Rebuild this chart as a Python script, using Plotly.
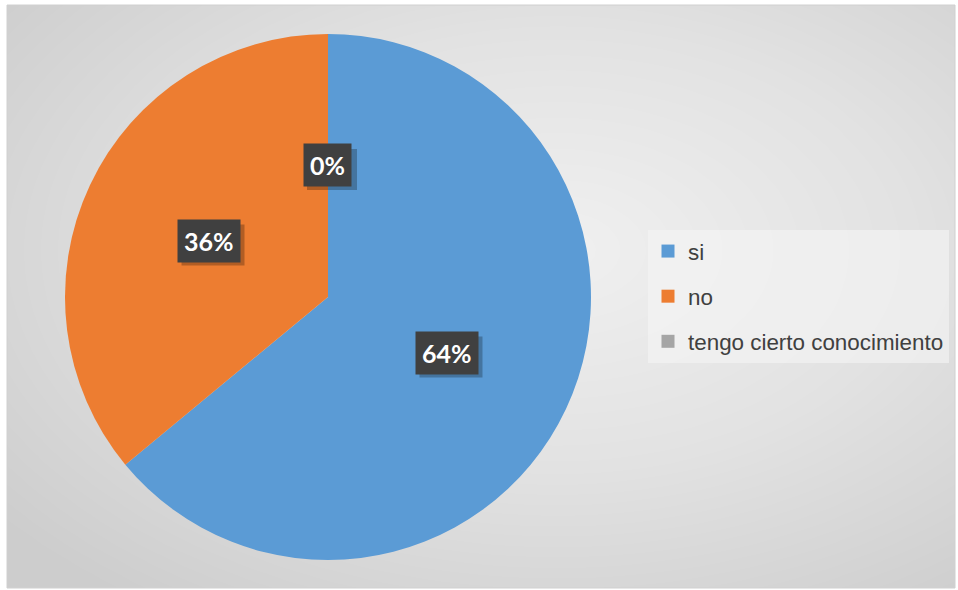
import numpy as np
import plotly.graph_objects as go

# Survey answers and their shares (%)
labels = ["si", "no", "tengo cierto conocimiento"]
values = [64, 36, 0]
colors = ["#5B9BD5", "#ED7D31", "#A5A5A5"]

W, H = 958, 590
# pie geometry in pixels
cx, cy, R = 328, 297, 263

fig = go.Figure()

# soft radial grey backdrop behind the chart
gx = np.linspace(0, 1, 120)
gy = np.linspace(0, 1, 80)
X, Y = np.meshgrid(gx, gy)
d = np.sqrt(((X - 0.58) / 0.75) ** 2 + ((Y - 0.58) / 0.75) ** 2)
fig.add_trace(go.Heatmap(
    x=gx, y=gy, z=d, zsmooth="best", showscale=False, hoverinfo="skip",
    colorscale=[[0, "#f0f0f0"], [0.5, "#e2e2e2"], [1, "#cdcdcd"]],
    zmin=0, zmax=1.0, xaxis="x", yaxis="y", showlegend=False,
))

fig.add_trace(go.Pie(
    labels=labels, values=values, sort=False, direction="clockwise",
    rotation=0, marker=dict(colors=colors, line=dict(width=0)),
    textinfo="none", showlegend=False, hoverinfo="label+percent",
    domain=dict(x=[(cx - R) / W, (cx + R) / W], y=[(H - cy - R) / H, (H - cy + R) / H]),
))

# legend entries
for lab, col in zip(labels, colors):
    fig.add_trace(go.Scatter(
        x=[None], y=[None], mode="markers", name=lab, legendgroup=lab,
        marker=dict(symbol="square", size=13, color=col),
        xaxis="x", yaxis="y",
    ))

# percentage labels placed halfway out along each slice's mid angle
shapes = [dict(type="rect", xref="paper", yref="paper", x0=7 / W, x1=955 / W,
               y0=2 / H, y1=1 - 5 / H, line=dict(color="#d0d0d0", width=1))]
total = sum(values)
cum = 0
for v in values:
    mid = (cum + v / 2) / total * 2 * np.pi
    cum += v
    px = cx + 0.5 * R * np.sin(mid)
    py = cy - 0.5 * R * np.cos(mid)
    txt = f"{round(v / total * 100)}%"
    # drop shadow under the label box
    bw, bh = 13 * len(txt) + 24, 41
    sx, sy = px + 4, py + 4
    shapes.append(dict(type="rect", xref="paper", yref="paper", layer="above",
                       x0=(sx - bw / 2) / W, x1=(sx + bw / 2) / W,
                       y0=1 - (sy + bh / 2) / H, y1=1 - (sy - bh / 2) / H,
                       fillcolor="rgba(0,0,0,0.25)", line=dict(width=0)))
    fig.add_annotation(text=f"<b>{txt}</b>", bgcolor="#404040",
                       font=dict(family="Lato", size=25, color="white"),
                       x=px / W, y=1 - py / H, xref="paper", yref="paper",
                       showarrow=False, borderpad=6, xanchor="center", yanchor="middle")

fig.update_layout(
    width=W, height=H, margin=dict(l=0, r=0, t=0, b=0),
    paper_bgcolor="white", plot_bgcolor="rgba(0,0,0,0)",
    xaxis=dict(domain=[7 / W, 955 / W], range=[0, 1], visible=False, fixedrange=True),
    yaxis=dict(domain=[2 / H, 1 - 5 / H], range=[0, 1], visible=False, fixedrange=True),
    showlegend=True,
    legend=dict(
        x=648 / W, y=1 - 230 / H, xanchor="left", yanchor="top",
        bgcolor="rgba(245,245,245,0.6)", traceorder="grouped", tracegroupgap=13,
        font=dict(family="Liberation Sans, Arial", size=22.4, color="#404040"),
        itemwidth=30,
    ),
    shapes=shapes,
)

fig.write_html("out.html")
